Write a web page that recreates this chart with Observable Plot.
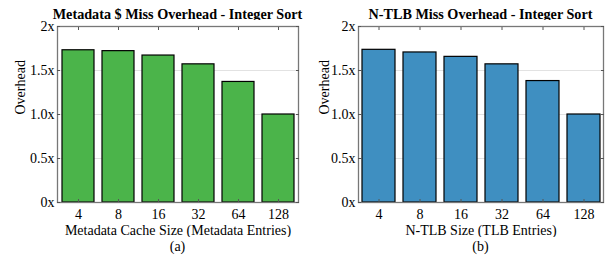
<!DOCTYPE html>
<html>
<head>
<meta charset="utf-8">
<script src="https://cdn.jsdelivr.net/npm/d3@7"></script>
<script src="https://cdn.jsdelivr.net/npm/@observablehq/plot@0.6"></script>
<style>
  html, body { margin: 0; padding: 0; background: #fff; }
  body { width: 608px; height: 257px; position: relative; overflow: hidden; font-family: "Liberation Serif", "Times New Roman", serif; }
  .panel { position: absolute; top: 0; width: 304px; height: 257px; }
  .title { position: absolute; top: 6px; height: 16px; line-height: 16px; font-weight: bold; font-size: 14.2px; white-space: nowrap; text-align: center; width: 320px; color: #000; font-family: "Liberation Serif", "Times New Roman", serif; }
  .plot { position: absolute; top: 20px; left: 0; }
  .cap { position: absolute; top: 239px; height: 16px; line-height: 16px; font-size: 14px; text-align: center; width: 60px; color: #000; font-family: "Liberation Serif", "Times New Roman", serif; }
  .plot svg text { font-family: "Liberation Serif", "Times New Roman", serif; }
</style>
</head>
<body>
<div id="root"></div>
<script>
const sizesA = ["4", "8", "16", "32", "64", "128"];
const overheadA = [1.73, 1.72, 1.67, 1.57, 1.37, 1.0];
const sizesB = ["4", "8", "16", "32", "64", "128"];
const overheadB = [1.735, 1.705, 1.655, 1.57, 1.38, 1.0];
const yTicks = [0, 0.5, 1.0, 1.5, 2];
const yTickLabels = ["0x", "0.5x", "1.0x", "1.5x", "2x"];

const panels = [
  {left: 0, title: "Metadata $ Miss Overhead - Integer Sort", xlabel: "Metadata Cache Size (Metadata Entries)", cap: "(a)", sizes: sizesA, values: overheadA, color: "#4bb44a", ml: 57, mr: 6},
  {left: 304, title: "N-TLB Miss Overhead - Integer Sort", xlabel: "N-TLB Size (TLB Entries)", cap: "(b)", sizes: sizesB, values: overheadB, color: "#3f8fc1", ml: 54, mr: 5}
];

const FONT = "'Liberation Serif', 'Times New Roman', serif";
const FS = 14;
const root = document.getElementById("root");
for (const p of panels) {
  const data = p.sizes.map((s, i) => ({size: s, v: p.values[i]}));
  const W = 304, H = 217, mt = 6, mb = 35;
  const chart = Plot.plot({
    width: W, height: H,
    marginTop: mt, marginBottom: mb, marginLeft: p.ml, marginRight: p.mr,
    style: {fontFamily: FONT, fontSize: FS + "px", color: "#000", background: "#fff"},
    x: {domain: p.sizes, paddingInner: 0.2, paddingOuter: 0.06, label: null},
    y: {domain: [0, 2], label: null},
    marks: [
      Plot.ruleY(yTicks.slice(1, 4), {stroke: "#e2e2e2", strokeWidth: 1}),
      Plot.barY(data, {x: "size", y: "v", fill: p.color, stroke: "#000", strokeWidth: 1.2}),
      Plot.frame({stroke: "#777", strokeWidth: 1.3}),
      Plot.axisY({anchor: "left", ticks: yTicks, tickFormat: (d) => yTickLabels[yTicks.indexOf(d)], tickSize: 0, tickPadding: 3, label: null, fontSize: FS}),
      Plot.axisY({anchor: "left", ticks: yTicks, tickSize: -3, text: null, label: null, stroke: "#555"}),
      Plot.axisY({anchor: "right", ticks: yTicks, tickSize: -3, text: null, label: null, stroke: "#555"}),
      Plot.axisX({anchor: "top", tickSize: -3, text: null, label: null, stroke: "#555"}),
      Plot.axisX({anchor: "bottom", tickSize: -3, text: null, label: null, stroke: "#555"}),
      Plot.axisX({anchor: "bottom", tickSize: 0, tickPadding: 7, label: null, fontSize: FS}),
      Plot.text([p.xlabel], {frameAnchor: "bottom", dy: 32, fontSize: FS, text: d => d}),
      Plot.text(["Overhead"], {frameAnchor: "left", dx: -(p.ml - 20), rotate: -90, fontSize: FS, text: d => d})
    ]
  });
  const div = document.createElement("div");
  div.className = "panel";
  div.style.left = p.left + "px";
  const t = document.createElement("div");
  t.className = "title";
  const cx = p.ml + (W - p.ml - p.mr) / 2;
  t.style.left = (cx - 160) + "px";
  t.textContent = p.title;
  const pl = document.createElement("div");
  pl.className = "plot";
  pl.appendChild(chart);
  const c = document.createElement("div");
  c.className = "cap";
  c.style.left = (cx - 30) + "px";
  c.textContent = p.cap;
  div.appendChild(t);
  div.appendChild(pl);
  div.appendChild(c);
  root.appendChild(div);
}
</script>
</body>
</html>
